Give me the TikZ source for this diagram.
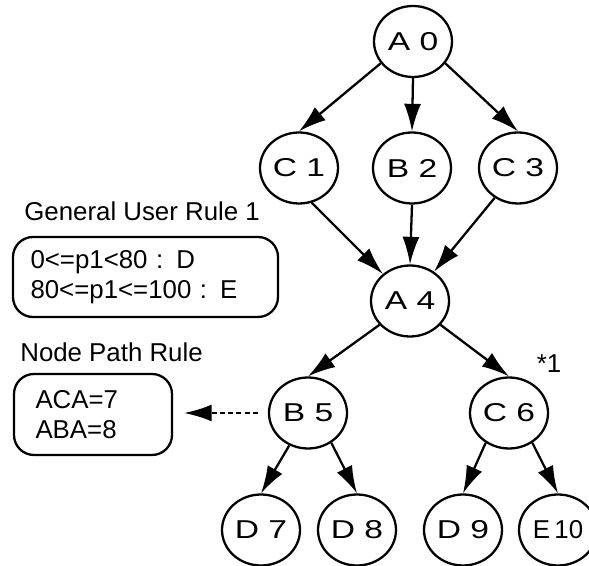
\documentclass[tikz,border=0pt]{standalone}
\usepackage{fontspec}
\usepackage{graphicx}
\setmainfont{Liberation Sans}
\usetikzlibrary{arrows.meta}
\usetikzlibrary{shapes.geometric}
\tikzset{state/.style = {draw, ellipse, line width=1.3pt, inner sep=0pt,
                         minimum width=1.56cm, minimum height=1.42cm},
         edge/.style = {-{Latex[length=5.5mm,width=3.4mm]}, line width=1.3pt},
         rulebox/.style = {draw, rounded corners=0.4cm, line width=1.3pt, align=left},
         caption/.style = {anchor=west, inner sep=0pt}}
\newcommand{\widelbl}[1]{\scalebox{1.3}[1]{#1}}

\begin{document}
\begin{tikzpicture}[font=\fontsize{14.7pt}{17pt}\selectfont]
    \useasboundingbox (0, 0) rectangle (11.78, 11.32);

    % the tree
    \foreach \name/\pos/\txt in {a0/{(8.26, 10.49)}/\widelbl{A 0},
                                 c1/{(5.98, 7.96)}/\widelbl{C 1}, b2/{(8.24, 7.96)}/\widelbl{B 2},
                                 c3/{(10.36, 7.96)}/\widelbl{C 3},
                                 a4/{(8.20, 5.30)}/\widelbl{A 4},
                                 b5/{(6.16, 3.06)}/\widelbl{B 5}, c6/{(10.18, 3.06)}/\widelbl{C 6},
                                 d7/{(5.22, 0.72)}/\widelbl{D 7}, d8/{(7.14, 0.72)}/\widelbl{D 8},
                                 d9/{(9.26, 0.72)}/\widelbl{D 9}, e10/{(11.16, 0.72)}/E\,10} {
      \node [state] (\name) at \pos {\txt};
    }

    \foreach \from/\to in {a0.214/c1.north, a0.south/b2.north, a0.326/c3.north,
                           c1.-70/a4, b2.south/a4.north, c3.-128/a4,
                           a4.218/b5.north, a4.322/c6.north,
                           b5.240/d7.north, b5.-52/d8.north,
                           c6.232/d9.north, c6.-52/e10.north} {
      \draw [edge] (\from) -- (\to);
    }

    % the rules
    \node [caption] (gurlabel) at (0.48, 7.10) {General User Rule 1};
    \node [rulebox, text width=4.6cm, inner xsep=0.35cm, minimum height=1.6cm]
          (rule1) at (2.91, 5.78) {0<=p1<80 : D\\80<=p1<=100 : E};

    \node [caption] (nprlabel) at (0.40, 4.27) {Node Path Rule};
    \node [rulebox, text width=2.3cm, inner xsep=0.43cm, minimum height=1.62cm]
          (rule2) at (1.86, 3.03) {ACA=7\\ABA=8};

    \draw [edge, dash pattern=on 2.8pt off 1.9pt, shorten <=0.2cm, shorten >=0.22cm]
          (b5.west) -- (rule2.east |- b5.west);

    \node (star) at (10.98, 4.04) {*1};
  \end{tikzpicture}
\end{document}
